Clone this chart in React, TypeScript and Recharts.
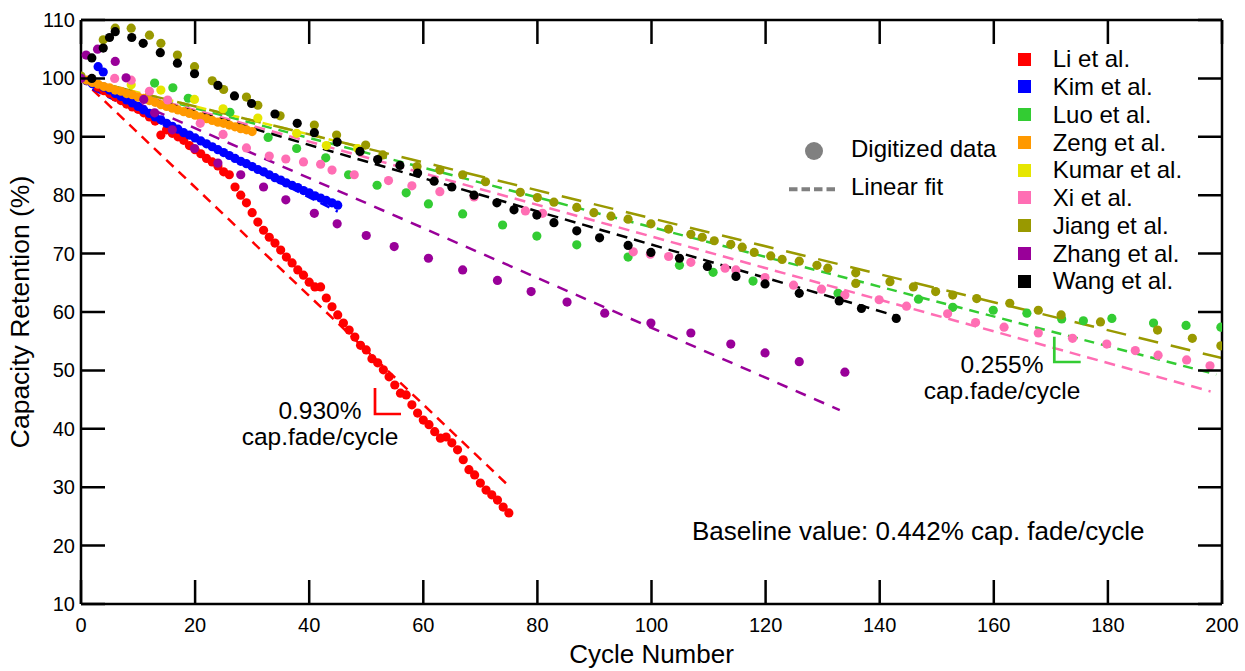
import React from 'react';
import { ComposedChart, Scatter, Line, XAxis, YAxis, Legend } from 'recharts';

const FONT = '"Liberation Sans", Arial, Helvetica, sans-serif';

// ---------- tick labels ----------
const xTicks = [0, 20, 40, 60, 80, 100, 120, 140, 160, 180, 200];
const yTicks = [10, 20, 30, 40, 50, 60, 70, 80, 90, 100, 110];

// ---------- series names / colours ----------
const seriesNames = ['Li et al.', 'Kim et al.', 'Luo et al.', 'Zeng et al.', 'Kumar et al.', 'Xi et al.', 'Jiang et al.', 'Zhang et al.', 'Wang et al.'];
const seriesColors = ['#ff0000', '#0000ff', '#33cc33', '#ff9900', '#e6e600', '#ff6eb4', '#999900', '#990099', '#000000'];

const liData = [
  [0, 100.0], [1, 99.6], [2, 99.2], [3, 98.5], [4, 97.9], [5, 97.4], [6, 96.8], [7, 96.2], [8, 95.6], [9, 95.1],
  [10, 94.7], [11, 94.1], [12, 93.4], [13, 92.7], [14, 90.3], [15, 91.2], [16, 90.6], [17, 90.0], [18, 89.4], [19, 88.5],
  [20, 87.8], [21, 87.1], [22, 86.3], [23, 85.7], [24, 85.0], [25, 84.0], [26, 83.5], [27, 81.4], [28, 80.0], [29, 78.7],
  [30, 77.0], [31, 75.4], [32, 74.0], [33, 72.8], [34, 71.8], [35, 70.6], [36, 69.4], [37, 68.4], [38, 67.2], [39, 66.3],
  [40, 65.1], [41, 64.3], [42, 64.3], [43, 62.4], [44, 60.9], [45, 59.5], [46, 58.1], [47, 56.9], [48, 55.7], [49, 54.3],
  [50, 53.5], [51, 52.0], [52, 51.3], [53, 50.1], [54, 48.9], [55, 47.5], [56, 46.1], [57, 45.8], [58, 44.1], [59, 42.7],
  [60, 41.5], [61, 40.7], [62, 39.5], [63, 38.4], [64, 38.6], [65, 37.6], [66, 36.4], [67, 34.7], [68, 33.0], [69, 32.1],
  [70, 30.7], [71, 29.5], [72, 28.7], [73, 27.8], [74, 26.6], [75, 25.6],
];
const kimData = [
  [0, 100.0], [1, 99.6], [2, 99.1], [3, 102.0], [3.9, 101.1], [4, 98.5], [5, 98.0], [6, 97.4], [7, 96.9], [8, 96.3], [9, 95.8],
  [10, 95.2], [11, 94.6], [12, 94.0], [13, 93.4], [14, 92.9], [15, 92.3], [16, 91.8], [17, 91.3], [18, 90.7], [19, 90.3],
  [20, 89.8], [21, 89.3], [22, 88.8], [23, 88.3], [24, 87.8], [25, 87.3], [26, 86.8], [27, 86.3], [28, 85.8], [29, 85.4],
  [30, 84.9], [31, 84.4], [32, 84.0], [33, 83.5], [34, 83.0], [35, 82.6], [36, 82.1], [37, 81.7], [38, 81.3], [39, 80.8],
  [40, 80.4], [41, 79.9], [42, 79.5], [43, 79.1], [44, 78.7], [45, 78.3],
];
const luoData = [
  [0, 100.0], [12.9, 99.2], [16.1, 98.4], [18.8, 96.6], [26.1, 94.2], [32.8, 89.9], [37.8, 88.0], [42.9, 86.4], [46.9, 83.5],
  [51.9, 81.7], [57, 80.4], [60.9, 78.5], [66.9, 76.8], [73.9, 74.9], [79.9, 73.0], [86.9, 71.5], [95.9, 69.4], [104.9, 68.0],
  [110.8, 66.8], [117.8, 65.3], [132.7, 63.2], [146.8, 62.2], [152.8, 60.8], [159.9, 60.3], [165.8, 59.8], [171.9, 58.8],
  [175.7, 58.5], [180.7, 58.9], [188, 58.1], [193.7, 57.7], [199.8, 57.4],
];
const zengData = [
  [0, 100.0], [1, 99.7], [2, 99.3], [3, 99.0], [4, 98.6], [5, 98.4], [6, 98.0], [7, 97.8], [8, 97.4], [9, 97.2],
  [10, 96.8], [11, 96.6], [12, 96.2], [13, 95.9], [14, 95.5], [15, 95.2], [16, 94.9], [17, 94.6], [18, 94.3], [19, 94.0],
  [20, 93.7], [21, 93.4], [22, 93.1], [23, 92.8], [24, 92.5], [25, 92.3], [26, 92.0], [27, 91.7], [28, 91.4], [29, 91.2], [30, 90.9],
];
const kumarData = [
  [0, 100.0], [8.8, 98.9], [14, 98.0], [19.9, 96.4], [24.9, 94.8], [31, 93.2], [37.8, 90.6], [43, 88.5], [48.5, 88.0],
];
const xiData = [
  [5.9, 100.0], [8.8, 99.7], [12, 97.8], [15.2, 96.3], [20.9, 92.3], [24.9, 90.4], [29, 88.1], [33, 86.7], [35.9, 86.2],
  [39, 85.7], [42, 85.3], [44, 84.3], [47.9, 83.5], [53.9, 82.5], [58, 81.6], [62.9, 80.6], [68.9, 79.7], [77.9, 77.3],
  [80.9, 76.9], [96.8, 70.3], [99.8, 69.9], [103, 69.5], [106.9, 68.5], [112.9, 67.5], [114.8, 67.2], [119.9, 65.9],
  [124.9, 64.6], [129.8, 63.9], [133.9, 62.9], [139.9, 62.1], [144.7, 61.0], [151.9, 59.7], [156.8, 58.2], [161.8, 57.4],
  [167.8, 56.4], [173.8, 55.5], [179.8, 54.5], [184.8, 53.4], [188.8, 52.6], [193.8, 51.8], [197.9, 50.8],
];
const jiangData = [
  [0, 100.4], [3.9, 106.6], [6, 108.6], [8.8, 108.6], [12, 107.4], [14, 106.0], [16.9, 104.0], [19.9, 102.0], [23, 99.6],
  [25, 98.1], [29, 96.8], [31, 95.4], [34.9, 93.6], [40.9, 92.0], [44.8, 90.3], [49.9, 88.6], [52.9, 86.9], [58.9, 84.9],
  [62.9, 84.3], [66.9, 83.5], [70.9, 82.3], [77, 80.5], [80, 79.6], [82.9, 78.8], [86.9, 77.9], [89.9, 77.0], [92.9, 76.4],
  [95.9, 75.9], [99.9, 75.1], [103, 74.2], [106.9, 73.3], [108.9, 72.8], [111, 72.2], [113.9, 71.6], [115.9, 71.1],
  [118, 70.2], [120.9, 69.6], [122.9, 69.0], [125.9, 68.7], [129, 68.0], [130.9, 67.5], [135.8, 66.7], [135.8, 64.9],
  [141.8, 65.2], [145.9, 64.3], [149.8, 63.5], [152.8, 62.9], [157, 62.3], [162.8, 61.5], [167.8, 60.3], [171.8, 59.5],
  [178.7, 58.3], [188.7, 56.9], [194.8, 55.5], [199.8, 54.2],
];
const zhangData = [
  [0, 100.0], [0.9, 104.0], [2.9, 105.0], [6, 102.9], [7.9, 100.1], [11, 96.4], [12.9, 94.1], [16, 91.2], [19.9, 88.0],
  [24, 85.5], [28, 83.5], [32, 81.4], [35.9, 79.2], [40.9, 76.9], [44.9, 75.1], [50, 73.1], [54.9, 71.2], [60.9, 69.2],
  [66.9, 67.2], [73, 65.4], [78.9, 63.5], [85.2, 61.7], [91.8, 59.8], [99.9, 58.1], [106.9, 56.4], [113.9, 54.5],
  [119.9, 53.0], [125.9, 51.5], [133.9, 49.7],
];
const wangData = [
  [1.9, 100.0], [1.9, 103.5], [3.9, 105.2], [5, 107.0], [6, 108.0], [8.9, 107.0], [10.9, 106.0], [13.9, 104.4],
  [16.9, 102.6], [19.9, 100.8], [24, 98.8], [26.9, 97.0], [29.9, 95.7], [34, 93.9], [37.9, 92.3], [40.9, 90.7],
  [44.9, 89.1], [48.9, 87.5], [52, 86.1], [55.9, 85.1], [59, 83.8], [61.9, 82.4], [65, 81.4], [68.9, 80.0], [72.9, 78.7],
  [75.9, 77.5], [79.9, 76.6], [82.9, 75.3], [86.9, 73.9], [90.9, 72.7], [95.9, 71.4], [99.9, 70.2], [104.9, 69.2],
  [109.8, 67.8], [114.8, 66.1], [119.9, 64.8], [125.9, 63.2], [132.9, 61.9], [136.8, 60.6], [142.9, 58.9],
];

// ---------- linear fit end points [cycle, retention %] ----------
const liFit = [[2, 98.1], [75, 30.2]];
const kimFit = [[2, 98.2], [45, 77.2]];
const luoFit = [[0, 100.0], [199, 49.3]];
const zengFit = [[0, 100.0], [30, 90.9]];
const kumarFit = [[0, 100.0], [50, 88.0]];
const xiFit = [[0, 100.0], [198, 46.4]];
const jiangFit = [[0, 100.0], [200, 52.1]];
const zhangFit = [[0, 100.0], [133, 43.2]];
const wangFit = [[0, 100.0], [143, 59.3]];

const fitDashes = ['10 7', '10 7', '10 7', '10 7', '10 7', '11 7', '20 13', '11 9', '11 7'];

const allData = [liData, kimData, luoData, zengData, kumarData, xiData, jiangData, zhangData, wangData];
const allFits = [liFit, kimFit, luoFit, zengFit, kumarFit, xiFit, jiangFit, zhangFit, wangFit];

const toPts = (rows: number[][]) => rows.map(([c, v]) => ({ c, v }));

// ---------- layout ----------
const W = 1245;
const H = 671;
const PL = 81; // plot left
const PR = 1222; // plot right
const PT = 20; // plot top
const PB = 604; // plot bottom
const AX = '#000';
const AXW = 2.5;
const TICK = 24;

// inward tick marks for the frame (computed once, from private copies of the tick arrays)
const X0 = 0, X1 = 200, Y0 = 10, Y1 = 110;
const tickPathD: string = (() => {
  const xs = xTicks.slice();
  const ys = yTicks.slice();
  let d = '';
  for (let i = 0; i < xs.length; i++) {
    const x = PL + ((Number(xs[i]) - X0) / (X1 - X0)) * (PR - PL);
    d += `M${x.toFixed(2)} ${PB} L${x.toFixed(2)} ${PB - TICK} M${x.toFixed(2)} ${PT} L${x.toFixed(2)} ${PT + TICK} `;
  }
  for (let i = 0; i < ys.length; i++) {
    const y = PB - ((Number(ys[i]) - Y0) / (Y1 - Y0)) * (PB - PT);
    d += `M${PL} ${y.toFixed(2)} L${PL + TICK} ${y.toFixed(2)} M${PR} ${y.toFixed(2)} L${PR - TICK} ${y.toFixed(2)} `;
  }
  return d;
})();

const BottomTick = (p: any) => (
  <text x={p.x} y={p.y + 27.5} textAnchor="middle" fontSize={20} fill="#000" fontFamily={FONT}>
    {p.payload.value}
  </text>
);
const LeftTick = (p: any) => (
  <text x={p.x - 6} y={p.y + 7} textAnchor="end" fontSize={20} fill="#000" fontFamily={FONT}>
    {p.payload.value}
  </text>
);
const NoTick = () => <g />;

const renderLegend = () => (
  <div style={{ fontFamily: FONT, fontSize: 24, color: '#000' }}>
    {seriesNames.map((name, i) => (
      <div
        key={name}
        style={{ display: 'flex', alignItems: 'center', height: 27.75, lineHeight: '27.75px', whiteSpace: 'nowrap' }}
      >
        <span style={{ width: 13, height: 13, background: seriesColors[i], display: 'inline-block', marginRight: 22, flex: 'none' }} />
        <span>{name}</span>
      </div>
    ))}
  </div>
);

export default function App() {
  return (
    <div style={{ position: 'absolute', left: 0, top: 0, width: W, height: H, background: '#fff', fontFamily: FONT }}>
      <ComposedChart width={W} height={H} margin={{ top: 0, right: 0, bottom: 0, left: 0 }}>
        <XAxis
          xAxisId={0}
          dataKey="c"
          type="number"
          domain={[X0, X1]}
          ticks={xTicks}
          interval={0}
          allowDataOverflow
          height={H - PB}
          tickSize={0}
          tickMargin={0}
          tickLine={false}
          axisLine={{ stroke: AX, strokeWidth: AXW }}
          tick={BottomTick}
          label={(p: any) => {
            const vb = p && p.viewBox ? p.viewBox : { x: PL, width: PR - PL };
            return (
              <text x={vb.x + vb.width / 2} y={663} textAnchor="middle" fontSize={26} fill="#000" fontFamily={FONT}>
                Cycle Number
              </text>
            );
          }}
        />
        <XAxis
          xAxisId="top"
          orientation="top"
          dataKey="c"
          type="number"
          domain={[X0, X1]}
          ticks={xTicks}
          interval={0}
          allowDataOverflow
          height={PT}
          tickSize={0}
          tickMargin={0}
          tickLine={false}
          axisLine={{ stroke: AX, strokeWidth: AXW }}
          tick={NoTick}
        />
        <YAxis
          yAxisId={0}
          dataKey="v"
          type="number"
          domain={[Y0, Y1]}
          ticks={yTicks}
          interval={0}
          allowDataOverflow
          width={PL}
          tickSize={0}
          tickMargin={0}
          tickLine={false}
          axisLine={{ stroke: AX, strokeWidth: AXW }}
          tick={LeftTick}
          label={(p: any) => {
            const vb = p && p.viewBox ? p.viewBox : { y: PT, height: PB - PT };
            const cy = vb.y + vb.height / 2;
            return (
              <text x={29} y={cy} transform={`rotate(-90, 29, ${cy})`} textAnchor="middle" fontSize={26.5} fill="#000" fontFamily={FONT}>
                Capacity Retention (%)
              </text>
            );
          }}
        />
        <YAxis
          yAxisId="right"
          orientation="right"
          dataKey="v"
          type="number"
          domain={[Y0, Y1]}
          ticks={yTicks}
          interval={0}
          allowDataOverflow
          width={W - PR}
          tickSize={0}
          tickMargin={0}
          tickLine={false}
          axisLine={{ stroke: AX, strokeWidth: AXW }}
          tick={NoTick}
        />
        <Legend
          layout="vertical"
          align="center"
          verticalAlign="middle"
          content={renderLegend}
          wrapperStyle={{ left: 1017.7, top: 45.3, width: 215 }}
        />
        {allData.map((d, i) => (
          <Scatter
            key={'s' + i}
            name={seriesNames[i]}
            data={toPts(d)}
            dataKey="v"
            fill={seriesColors[i]}
            isAnimationActive={false}
            shape={(p: any) => <circle cx={p.cx} cy={p.cy} r={4.6} fill={seriesColors[i]} />}
          />
        ))}
        {allFits.map((d, i) => (
          <Line
            key={'f' + i}
            name={seriesNames[i] + ' fit'}
            data={toPts(d)}
            dataKey="v"
            type="linear"
            stroke={seriesColors[i]}
            strokeWidth={2.5}
            strokeDasharray={fitDashes[i]}
            dot={false}
            activeDot={false}
            legendType="none"
            isAnimationActive={false}
          />
        ))}
      </ComposedChart>
      <svg
        width={W}
        height={H}
        style={{ position: 'absolute', left: 0, top: 0, pointerEvents: 'none', zIndex: 10 }}
        fontFamily={FONT}
      >
        {/* inward tick marks on all four sides */}
        <path d={tickPathD} fill="none" stroke={AX} strokeWidth={AXW} />

        {/* marker legend */}
        <circle cx={814} cy={151} r={9} fill="#808080" />
        <text x={851} y={156.7} fontSize={24} fill="#000">Digitized data</text>
        <line x1={789} x2={835} y1={189.3} y2={189.3} stroke="#808080" strokeWidth={4} strokeDasharray="8.5 4" />
        <text x={851} y={195} fontSize={24} fill="#000">Linear fit</text>

        {/* Li annotation */}
        <polyline points="375,388 375,414 401,414" fill="none" stroke="#ff0000" strokeWidth={2.7} />
        <text x={320} y={419} textAnchor="middle" fontSize={24.5} fill="#000">0.930%</text>
        <text x={320} y={444.5} textAnchor="middle" fontSize={24.5} fill="#000">cap.fade/cycle</text>

        {/* Luo annotation */}
        <polyline points="1054.3,336.7 1054.3,362 1080.7,362" fill="none" stroke="#33cc33" strokeWidth={2.7} />
        <text x={1002} y={373} textAnchor="middle" fontSize={24.5} fill="#000">0.255%</text>
        <text x={1002} y={398.5} textAnchor="middle" fontSize={24.5} fill="#000">cap.fade/cycle</text>

        <text x={692} y={540} fontSize={26} fill="#000">Baseline value: 0.442% cap. fade/cycle</text>
      </svg>
    </div>
  );
}
